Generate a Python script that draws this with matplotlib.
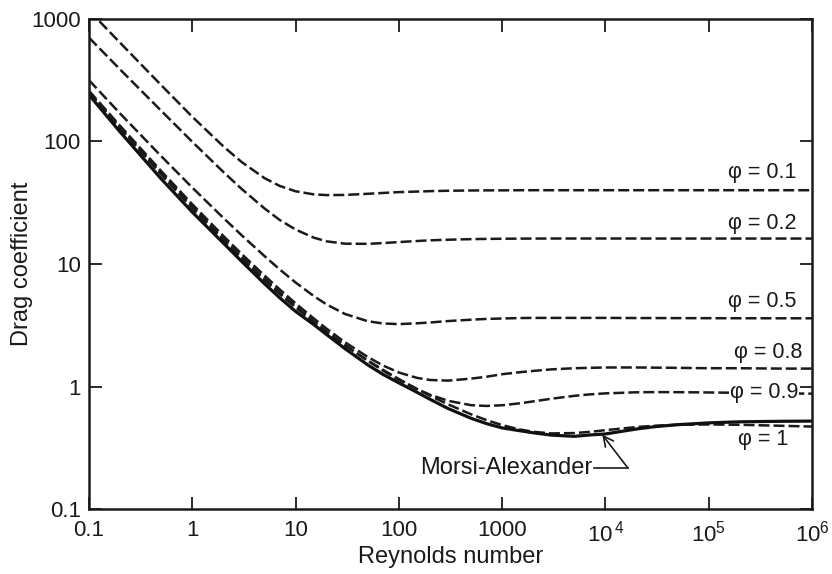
import matplotlib
matplotlib.use("Agg")
import matplotlib.pyplot as plt
from matplotlib.ticker import FixedLocator, FixedFormatter, NullLocator

plt.rcParams['font.family'] = ['Liberation Sans', 'DejaVu Sans']
plt.rcParams['mathtext.fontset'] = 'custom'
plt.rcParams['mathtext.rm'] = 'Liberation Sans'

# Reynolds numbers at which the curves were read
reynolds = [0.1, 0.2, 0.5, 1, 2, 3, 5, 7, 10, 15, 20, 30, 50, 70, 100, 150, 200,
            300, 500, 700, 1000, 1500, 2000, 3000, 5000, 7000, 1e4, 2e4, 3e4,
            5e4, 1e5, 2e5, 5e5, 1e6]

phi_01 = [1173, 639, 288, 159, 91.1, 68.0, 50.2, 43.4, 39.2, 37.0, 36.5, 36.6,
          37.4, 38.0, 38.6, 39.0, 39.3, 39.6, 39.8, 39.9, 39.9, 40.0, 40.0, 40.0,
          40.0, 40.0, 40.0, 40.0, 40.0, 40.0, 40.0, 40.0, 40.0, 40.0]
phi_02 = [703, 387, 178, 99.3, 56.3, 41.0, 28.4, 22.9, 19.1, 16.4, 15.3, 14.65,
          14.6, 14.81, 15.1, 15.4, 15.6, 15.78, 15.95, 16.02, 16.07, 16.11, 16.12,
          16.14, 16.14, 16.14, 16.14, 16.14, 16.13, 16.13, 16.13, 16.13, 16.13, 16.13]
phi_05 = [316, 169, 75.8, 42.0, 23.75, 17.18, 11.6, 9.04, 7.06, 5.47, 4.67, 3.91,
          3.41, 3.27, 3.23, 3.28, 3.33, 3.42, 3.51, 3.56, 3.59, 3.62, 3.63, 3.63,
          3.63, 3.63, 3.63, 3.62, 3.62, 3.615, 3.61, 3.607, 3.604, 3.603]
phi_08 = [259, 134, 57.3, 30.7, 16.9, 12.08, 8.04, 6.21, 4.77, 3.59, 2.96, 2.30,
          1.74, 1.485, 1.30, 1.176, 1.13, 1.117, 1.16, 1.20, 1.26, 1.31, 1.34,
          1.38, 1.41, 1.42, 1.43, 1.43, 1.425, 1.42, 1.41, 1.41, 1.40, 1.40]
phi_09 = [254, 130, 55.1, 29.4, 16.05, 11.44, 7.60, 5.88, 4.52, 3.41, 2.81, 2.18,
          1.62, 1.35, 1.13, 0.951, 0.857, 0.764, 0.704, 0.694, 0.703, 0.730, 0.756,
          0.795, 0.839, 0.862, 0.879, 0.897, 0.900, 0.899, 0.894, 0.888, 0.879, 0.874]
phi_10 = [250, 128, 53.7, 28.5, 15.5, 11.05, 7.36, 5.70, 4.41, 3.35, 2.78, 2.17,
          1.63, 1.37, 1.15, 0.954, 0.842, 0.715, 0.593, 0.533, 0.484, 0.445, 0.427,
          0.414, 0.417, 0.426, 0.440, 0.467, 0.478, 0.487, 0.490, 0.487, 0.478, 0.471]
morsi_alexander = [240, 119.6, 49.5, 26.5, 14.8, 10.51, 6.90, 5.31, 4.10, 3.20,
                   2.65, 2.04, 1.50, 1.257, 1.07, 0.896, 0.787, 0.661, 0.550, 0.499,
                   0.459, 0.435, 0.419, 0.401, 0.392, 0.402, 0.41, 0.450, 0.470,
                   0.488, 0.505, 0.515, 0.520, 0.522]

phi_labels = ["φ = 0.1", "φ = 0.2", "φ = 0.5", "φ = 0.8", "φ = 0.9", "φ = 1"]
label_x = [7.1e5, 7.1e5, 7.1e5, 8.0e5, 7.3e5, 5.85e5]
label_y = [55.3, 21.6, 4.90, 1.91, 0.90, 0.366]

x_ticks = [0.1, 1, 10, 100, 1000, 1e4, 1e5, 1e6]
x_tick_labels = ["0.1", "1", "10", "100", "1000",
                 r"$\mathregular{10^{\,4}}$", r"$\mathregular{10^{5}}$",
                 r"$\mathregular{10^{6}}$"]
y_ticks = [0.1, 1, 10, 100, 1000]
y_tick_labels = ["0.1", "1", "10", "100", "1000"]

ink = '#1a1a1a'

fig = plt.figure(figsize=(8.32, 5.74), dpi=100)
ax = fig.add_axes([0.107, 0.1132, 0.869, 0.8538])
ax.set_xscale('log')
ax.set_yscale('log')

dash = (4.4, 1.6)
for series in [phi_01, phi_02, phi_05, phi_08, phi_09, phi_10]:
    ax.plot(reynolds, series, color=ink, lw=1.8, dashes=dash)
ax.plot(reynolds, morsi_alexander, color='#111111', lw=2.3, solid_capstyle='butt')

for txt, lx, ly in zip(phi_labels, label_x, label_y):
    kw = {}
    if txt == "φ = 0.9":
        kw['bbox'] = dict(facecolor='white', edgecolor='none', pad=0.5)
    ax.text(lx, ly, txt, ha='right', va='center', fontsize=15.5, color=ink, **kw)

ax.text(160, 0.216, "Morsi-Alexander", ha='left', va='center', fontsize=17, color=ink)
ax.plot([7800, 16500], [0.216, 0.216], color=ink, lw=1.2)
ax.annotate('', xy=(9300, 0.405), xytext=(16500, 0.216),
            arrowprops=dict(arrowstyle='->', lw=1.2, color=ink,
                            shrinkA=0, shrinkB=0, mutation_scale=18))

ax.set_xlim(0.1, 1e6)
ax.set_ylim(0.1, 1000)
ax.xaxis.set_major_locator(FixedLocator(x_ticks))
ax.xaxis.set_major_formatter(FixedFormatter(x_tick_labels))
ax.yaxis.set_major_locator(FixedLocator(y_ticks))
ax.yaxis.set_major_formatter(FixedFormatter(y_tick_labels))
ax.xaxis.set_minor_locator(NullLocator())
ax.yaxis.set_minor_locator(NullLocator())
ax.tick_params(which='major', direction='in', length=9, width=1.3,
               top=True, right=True, labelsize=16, colors=ink)
ax.tick_params(axis='x', pad=8)
ax.tick_params(axis='y', pad=6)
for s in ax.spines.values():
    s.set_linewidth(1.8)
    s.set_color(ink)

ax.set_xlabel("Reynolds number", fontsize=17, color=ink)
ax.set_ylabel("Drag coefficient", fontsize=17, color=ink)
ax.xaxis.set_label_coords(0.5, -0.0755)
ax.yaxis.set_label_coords(-0.0775, 0.5)

fig.savefig("out.png", dpi=100)
